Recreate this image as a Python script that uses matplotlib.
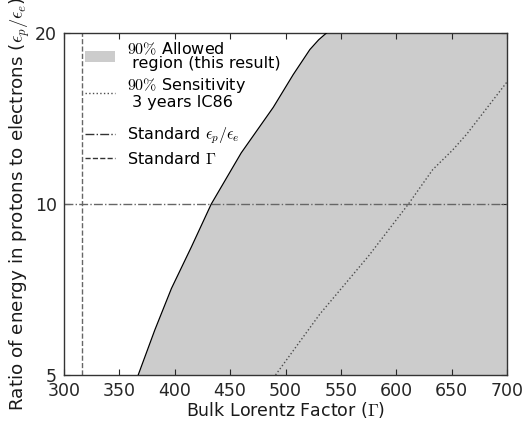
import matplotlib
matplotlib.use("Agg")
import matplotlib.pyplot as plt
from matplotlib.ticker import FixedLocator, FixedFormatter, NullLocator
from matplotlib.patches import Patch
from matplotlib.lines import Line2D

plt.rcParams['mathtext.fontset'] = 'cm'
plt.rcParams['font.family'] = ['DejaVu Sans']

# Allowed-region boundary (Gamma, eps_p/eps_e)
allowed_gamma = [367, 382, 397, 415, 433, 460, 489, 507, 522, 530, 537]
allowed_ratio = [5.0, 6.0, 7.1, 8.4, 10.0, 12.3, 14.8, 16.9, 18.7, 19.46, 20.0]

# 90% sensitivity, 3 years IC86
sens_gamma = [491, 531, 575, 611, 633, 651, 664, 700]
sens_ratio = [5.0, 6.4, 8.1, 10.0, 11.5, 12.45, 13.3, 16.4]

standard_ratio = 10.0
standard_gamma = 316

xticks = [300, 350, 400, 450, 500, 550, 600, 650, 700]
yticks = [5, 10, 20]

fig = plt.figure(figsize=(5.32, 4.21), dpi=100)
ax = fig.add_axes([64/532, 1-375/421, (507-64)/532, (375-33)/421])

ax.fill_betweenx(allowed_ratio, allowed_gamma, 700, color='#cccccc', linewidth=0, zorder=1)
ax.plot(allowed_gamma, allowed_ratio, color='black', lw=0.9, zorder=3)
ax.plot(sens_gamma, sens_ratio, color='0.3', lw=1.0, ls=':', zorder=3)
ax.axhline(standard_ratio, color='0.4', lw=1.0, ls='-.', zorder=2)
ax.axvline(standard_gamma, color='0.4', lw=1.0, ls='--', zorder=2)

ax.set_yscale('log')
ax.set_xlim(300, 700)
ax.set_ylim(5, 20)
ax.yaxis.set_major_locator(FixedLocator(yticks))
ax.yaxis.set_major_formatter(FixedFormatter([str(t) for t in yticks]))
ax.yaxis.set_minor_locator(NullLocator())
ax.set_xticks(xticks)
ax.set_xticklabels([str(t) for t in xticks])

ax.tick_params(direction='in', top=True, right=True, length=4, width=0.8,
               labelsize=12.5, colors='0.15', pad=5)
for s in ax.spines.values():
    s.set_color('0.2')
    s.set_linewidth(1.0)

ax.set_xlabel(r'Bulk Lorentz Factor ($\Gamma$)', fontsize=12.5, color='0.1', labelpad=0)
ax.set_ylabel(r'Ratio of energy in protons to electrons ($\epsilon_p/\epsilon_e$)',
              fontsize=13.2, color='0.1', labelpad=2)

handles = [
    Patch(facecolor='#cccccc', edgecolor='none'),
    Line2D([], [], color='0.3', ls=':', lw=1.0),
    Line2D([], [], color='0.2', ls='-.', lw=1.0),
    Line2D([], [], color='0.2', ls='--', lw=1.0),
]
labels = [
    '$90\\%$ Allowed\n region (this result)',
    '$90\\%$ Sensitivity\n 3 years IC86',
    'Standard $\\epsilon_p/\\epsilon_e$',
    'Standard $\\Gamma$',
]
common = dict(loc='upper left', frameon=False, fontsize=11.5, handlelength=1.9,
              labelspacing=0.3, handletextpad=0.7)
leg1 = ax.legend(handles[:2], labels[:2], bbox_to_anchor=(0.015, 1.02), **common)
for t in leg1.get_texts():
    t.set_linespacing(0.95)
ax.add_artist(leg1)
leg2 = ax.legend(handles[2:], labels[2:], bbox_to_anchor=(0.015, 0.772), **common)

fig.savefig('out.png', dpi=100)
